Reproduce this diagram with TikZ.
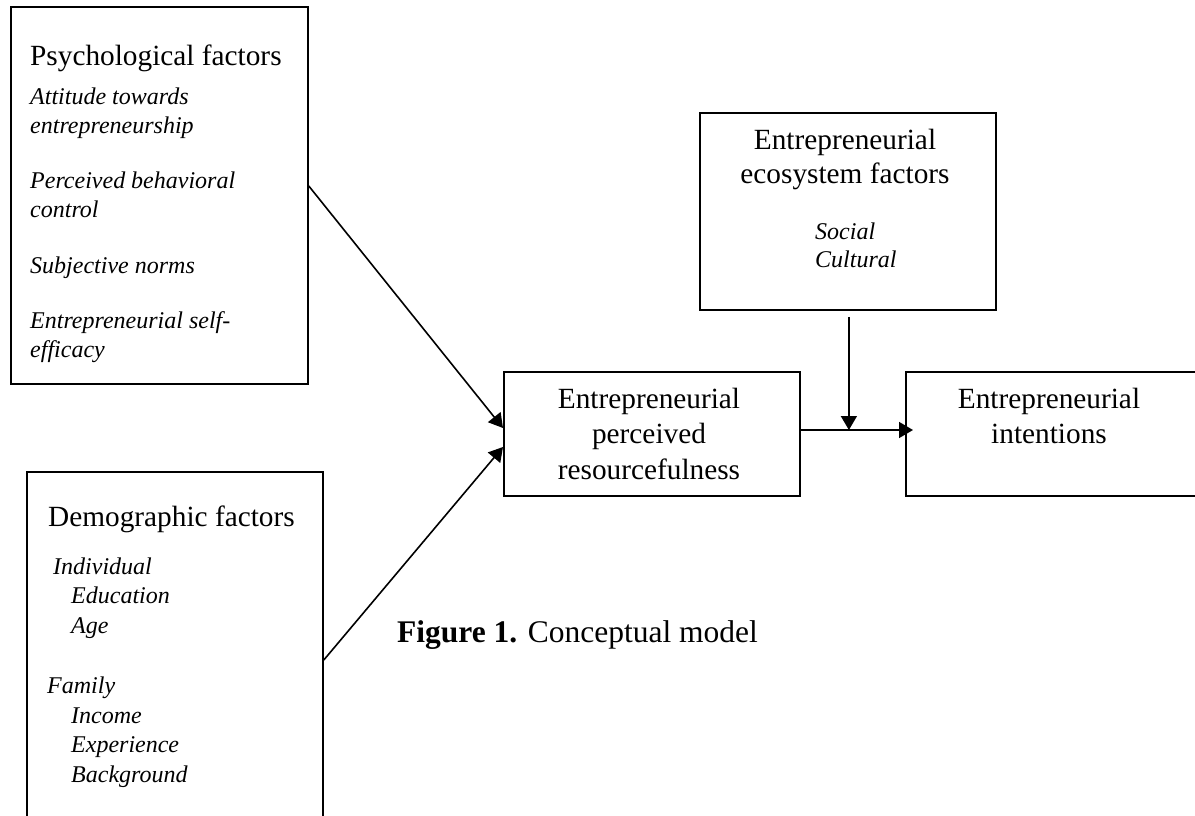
\documentclass[tikz,border=0pt]{standalone}
\usepackage{fontspec}
\setmainfont{Liberation Serif}
\usetikzlibrary{arrows.meta,calc}
\tikzset{
  box/.style={draw, line width=1.8pt, inner sep=0pt, anchor=north west},
  ttl/.style={font=\fontsize{29.3}{36}\selectfont, anchor=base, inner sep=0pt},
  ttlw/.style={font=\fontsize{29.3}{36}\selectfont, anchor=base west, inner sep=0pt},
  itl/.style={font=\fontsize{24}{29}\selectfont\itshape, anchor=base west, inner sep=0pt},
  arr/.style={-{Triangle[length=14pt,width=16pt]}, line width=1.6pt}
}
\begin{document}
\begin{tikzpicture}[x=1pt,y=-1pt]
\useasboundingbox[fill=white] (0,0) rectangle (1195,816);

% boxes
\node[box, minimum width=297pt, minimum height=377pt] (psy) at (10,6) {};
\node[box, minimum width=296pt, minimum height=380pt] (demo) at (26,471) {};
\node[box, minimum width=296pt, minimum height=197pt] (eco) at (699,112) {};
\node[box, minimum width=296pt, minimum height=124pt] (epr) at (503,371) {};
\node[box, minimum width=300pt, minimum height=124pt] (int) at (905,371) {};

% psychological factors
\node[ttlw] (psyt) at (30,66) {Psychological factors};
\node[itl] (p1) at (30,104) {Attitude towards};
\node[itl] (p2) at (30,133) {entrepreneurship};
\node[itl] (p3) at (30,188) {Perceived behavioral};
\node[itl] (p4) at (30,217) {control};
\node[itl] (p5) at (30,273) {Subjective norms};
\node[itl] (p6) at (30,328) {Entrepreneurial self-};
\node[itl] (p7) at (30,357) {efficacy};

% demographic factors
\node[ttlw] (demt) at (48,526) {Demographic factors};
\node[itl] (d1) at (53,574) {Individual};
\node[itl] (d2) at (71,603) {Education};
\node[itl] (d3) at (71,633) {Age};
\node[itl] (d4) at (47,693) {Family};
\node[itl] (d5) at (71,723) {Income};
\node[itl] (d6) at (71,752) {Experience};
\node[itl] (d7) at (71,782) {Background};

% ecosystem
\node[ttl] (ecot1) at (845,149) {Entrepreneurial};
\node[ttl] (ecot2) at (845,183) {ecosystem factors};
\node[itl] (e1) at (815,239) {Social};
\node[itl] (e2) at (815,267) {Cultural};

% EPR
\node[ttl] (eprt1) at (649,408) {Entrepreneurial};
\node[ttl] (eprt2) at (649,443) {perceived};
\node[ttl] (eprt3) at (649,479) {resourcefulness};

% intentions
\node[ttl] (intt1) at (1049,408) {Entrepreneurial};
\node[ttl] (intt2) at (1049,443) {intentions};

% caption
\node[font=\fontsize{31.5}{38}\selectfont, anchor=base west, inner sep=0pt] (cap) at (397,642) {\textbf{Figure 1.} Conceptual model};

% connectors
\coordinate (ps) at ($(psy.north east)+(0,180)$);
\coordinate (ds) at ($(demo.north east)+(0,189)$);
\coordinate (pt) at ($(epr.north west)+(0,57)$);
\coordinate (dt) at ($(epr.north west)+(0,76)$);
\coordinate (hs) at ($(epr.north east)+(0,59)$);
\coordinate (ht) at ($(int.north west)+(8,59)$);
\coordinate (vs) at ($(eco.south)+(1,6)$);
\coordinate (vt) at (vs |- hs);

\draw[arr] (ps) -- (pt);
\draw[arr] (ds) -- (dt);
\draw[arr] (hs) -- (ht);
\draw[arr] (vs) -- (vt);
\end{tikzpicture}
\end{document}
